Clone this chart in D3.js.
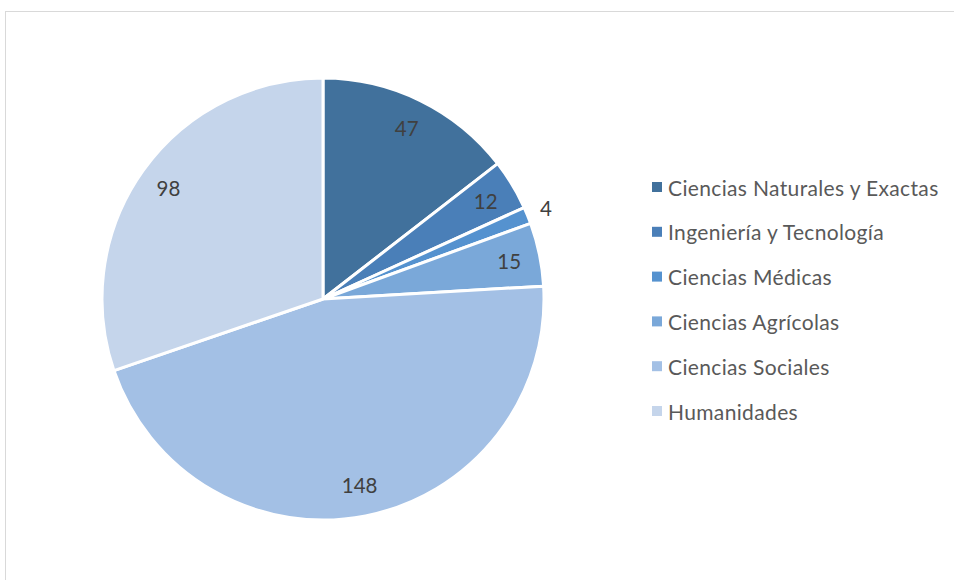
<!DOCTYPE html>
<html><head><meta charset="utf-8">
<script src="https://cdn.jsdelivr.net/npm/d3@7"></script>
<style>html,body{margin:0;padding:0;background:#fff;}svg{display:block;}</style>
</head><body>
<svg id="c" width="954" height="580"></svg>
<script>
const categories = ["Ciencias Naturales y Exactas","Ingeniería y Tecnología","Ciencias Médicas","Ciencias Agrícolas","Ciencias Sociales","Humanidades"];
const values = [47, 12, 4, 15, 148, 98];
const colors = ["#41719C","#4A7FB8","#5592CF","#7AA8D9","#A3C0E5","#C5D5EB"];
const outsideLabels = [false,false,true,false,false,false];

const svg = d3.select("#c");
svg.append("rect").attr("x",5.5).attr("y",11.5).attr("width",960).attr("height",600)
  .attr("fill","#fff").attr("stroke","#d9d9d9").attr("stroke-width",1);

const cx = 323, cy = 299, r = 221;
const data = categories.map((c,i)=>({cat:c, value:values[i], color:colors[i], out:outsideLabels[i]}));
const pie = d3.pie().value(d=>d.value).sort(null);
const arcs = pie(data);
const arc = d3.arc().innerRadius(0).outerRadius(r);
const labelArc = d3.arc().innerRadius(r*0.86).outerRadius(r*0.86);
const outArc = d3.arc().innerRadius(r*1.09).outerRadius(r*1.09);

const g = svg.append("g").attr("transform",`translate(${cx},${cy})`);
g.selectAll("path").data(arcs).join("path")
  .attr("d",arc).attr("fill",d=>d.data.color)
  .attr("stroke","#fff").attr("stroke-width",3).attr("stroke-linejoin","round");

g.selectAll("text").data(arcs).join("text")
  .attr("transform",d=>`translate(${(d.data.out?outArc:labelArc).centroid(d)})`)
  .attr("text-anchor","middle").attr("dominant-baseline","central")
  .attr("font-family","Lato, 'Open Sans', sans-serif").attr("font-size",20.5)
  .attr("fill","#404040").text(d=>d.data.value);

const leg = svg.append("g").attr("transform","translate(652,187)");
const rows = leg.selectAll("g").data(data).join("g")
  .attr("transform",(d,i)=>`translate(0,${i*44.8})`);
rows.append("rect").attr("x",0).attr("y",-5).attr("width",10).attr("height",10).attr("fill",d=>d.color);
rows.append("text").attr("x",16).attr("y",0).attr("dominant-baseline","central")
  .attr("font-family","Lato, 'Open Sans', sans-serif").attr("font-size",21)
  .attr("letter-spacing",0.35)
  .attr("fill","#595959").text(d=>d.cat);
</script>
</body></html>
